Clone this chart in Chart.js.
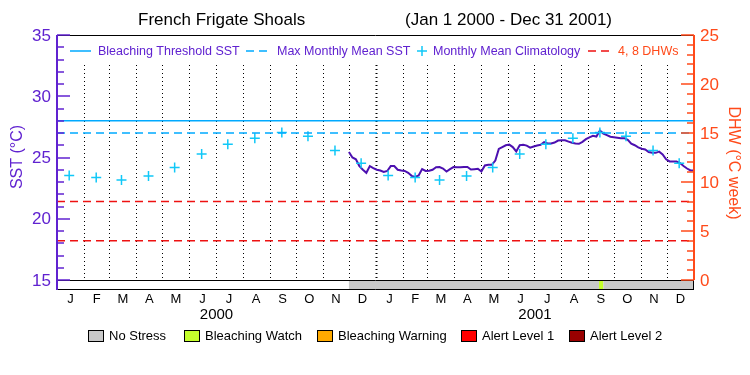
<!DOCTYPE html>
<html>
<head>
<meta charset="utf-8">
<script src="https://cdn.jsdelivr.net/npm/chart.js@4.4.1/dist/chart.umd.min.js"></script>
<style>
  html, body { margin: 0; padding: 0; background: #fff; }
  #wrap { width: 750px; height: 375px; }
</style>
</head>
<body>
<div id="wrap"><canvas id="chart"></canvas></div>
<script>
const years = ['2000', '2001'];
const monthLabels = ['J', 'F', 'M', 'A', 'M', 'J', 'J', 'A', 'S', 'O', 'N', 'D'];
const monthDays2000 = [31, 29, 31, 30, 31, 30, 31, 31, 30, 31, 30, 31];
const monthDays2001 = [31, 28, 31, 30, 31, 30, 31, 31, 30, 31, 30, 31];

// monthly mean climatology, same for both years
const climatology = [23.53, 23.37, 23.16, 23.48, 24.19, 25.28, 26.09, 26.58, 27.04, 26.74, 25.57, 24.54];
const mmmSST = 27.0;
const thresholdSST = 28.0;
const dhwLevels = [4, 8];

// SST, one value every 4 days from 1 Dec 2000
const sstStartDay = 335;
const sstStepDays = 4;
const sst = [
  25.45, 25.0, 24.85, 24.3, 24.0, 23.75, 24.3, 24.14, 24.0, 23.94,
  23.82, 23.9, 24.3, 24.3, 24.0, 23.94, 23.9, 23.75, 23.5, 23.42,
  23.53, 24.05, 23.9, 23.92, 24.0, 24.2, 24.22, 24.1, 23.86, 24.05,
  24.22, 24.2, 24.2, 24.22, 24.22, 24.02, 24.05, 24.08, 23.85, 24.35,
  24.4, 24.4, 24.75, 25.7, 25.85, 26.0, 26.05, 25.85, 25.5, 26.0,
  26.04, 25.97, 25.8, 25.9, 25.98, 26.04, 26.25, 26.14, 26.15, 26.22,
  26.38, 26.4, 26.4, 26.3, 26.2, 26.15, 26.12, 26.28, 26.5, 26.65,
  26.77, 26.71, 27.2, 26.95, 26.83, 26.7, 26.66, 26.62, 26.58, 26.58,
  26.44, 26.12, 26.0, 25.82, 25.72, 25.66, 25.45, 25.38, 25.38, 25.48,
  25.25, 24.85, 24.68, 24.68, 24.67, 24.55, 24.3, 24.1, 23.94, 23.94
];

// stress bar periods (day of record) and level index
const stressStart = [335, 622, 627];
const stressEnd = [622, 627, 731];
const stressLevel = [0, 1, 0];
const stressNames = ['No Stress', 'Bleaching Watch', 'Bleaching Warning', 'Alert Level 1', 'Alert Level 2'];
const stressColors = ['#c8c8c8', '#c4ff2c', '#ffaa00', '#ff0000', '#990000'];

const sstTicks = [15, 20, 25, 30, 35];
const dhwTicks = [0, 5, 10, 15, 20, 25];

const PURPLE = '#6022d0';
const LINE_PURPLE = '#4c10b0';
const CYAN = '#00aaff';
const CROSS = '#10c8f8';
const RED = '#ee1111';
const ORANGE = '#ff4a1a';
const FONT = '"Liberation Sans", Arial, sans-serif';

const monthDays = monthDays2000.concat(monthDays2001);
const monthStart = [0];
monthDays.forEach(d => monthStart.push(monthStart[monthStart.length - 1] + d));
const totalDays = monthStart[monthStart.length - 1];

const sstPoints = sst.map((v, i) => ({ x: sstStartDay + i * sstStepDays, y: v }));
const climPoints = monthDays.map((d, i) => ({ x: monthStart[i] + 14, y: climatology[i % 12] }));
const flat = v => [{ x: 0, y: v }, { x: totalDays, y: v }];

const decor = {
  id: 'decor',
  beforeDatasetsDraw(chart) {
    const { ctx, chartArea: a, scales: { x, y } } = chart;
    const y15 = Math.round(y.getPixelForValue(15)) + 0.5;
    ctx.save();
    stressStart.forEach((s, i) => {
      const x0 = x.getPixelForValue(s), x1 = x.getPixelForValue(stressEnd[i]);
      ctx.fillStyle = stressColors[stressLevel[i]];
      ctx.fillRect(x0, y15, x1 - x0, a.bottom - y15);
    });
    // month dividers, kept below the legend row
    ctx.strokeStyle = '#000';
    ctx.setLineDash([1, 3]);
    monthStart.slice(1, -1).forEach(d => {
      const px = Math.round(x.getPixelForValue(d)) + 0.5;
      ctx.lineWidth = d === 366 ? 2 : 1;
      ctx.beginPath(); ctx.moveTo(px, a.top + 30); ctx.lineTo(px, y15); ctx.stroke();
    });
    ctx.setLineDash([]);
    ctx.lineWidth = 1;
    ctx.beginPath();
    ctx.moveTo(a.left, a.top + 0.5); ctx.lineTo(a.right, a.top + 0.5);
    ctx.moveTo(a.left, y15); ctx.lineTo(a.right, y15);
    ctx.moveTo(a.left, a.bottom - 0.5); ctx.lineTo(a.right, a.bottom - 0.5);
    ctx.moveTo(a.right - 0.5, y15); ctx.lineTo(a.right - 0.5, a.bottom);
    ctx.stroke();
    ctx.restore();
  },
  afterDatasetsDraw(chart) {
    const { ctx, chartArea: a, scales: { x, y, y2 } } = chart;
    ctx.save();
    // left axis
    ctx.strokeStyle = PURPLE;
    ctx.lineWidth = 2;
    ctx.beginPath(); ctx.moveTo(a.left, a.top); ctx.lineTo(a.left, a.bottom); ctx.stroke();
    ctx.lineWidth = 1.5;
    for (let v = 15; v <= 35; v++) {
      const py = Math.round(y.getPixelForValue(v));
      const len = v % 5 === 0 ? 13 : 7;
      ctx.beginPath(); ctx.moveTo(a.left, py); ctx.lineTo(a.left + len, py); ctx.stroke();
    }
    ctx.fillStyle = PURPLE;
    ctx.font = '17px ' + FONT;
    ctx.textAlign = 'right';
    ctx.textBaseline = 'middle';
    sstTicks.forEach(v => ctx.fillText(String(v), a.left - 6, y.getPixelForValue(v) + 1));
    // right axis
    ctx.strokeStyle = ORANGE;
    ctx.lineWidth = 2;
    ctx.beginPath(); ctx.moveTo(a.right, a.top); ctx.lineTo(a.right, y2.getPixelForValue(0)); ctx.stroke();
    ctx.lineWidth = 1.5;
    for (let v = 0; v <= 25; v++) {
      const py = Math.round(y2.getPixelForValue(v));
      const len = v % 5 === 0 ? 13 : 7;
      ctx.beginPath(); ctx.moveTo(a.right, py); ctx.lineTo(a.right - len, py); ctx.stroke();
    }
    ctx.fillStyle = ORANGE;
    ctx.textAlign = 'left';
    dhwTicks.forEach(v => ctx.fillText(String(v), a.right + 6, y2.getPixelForValue(v) + 1));

    // month and year labels
    ctx.fillStyle = '#000';
    ctx.textAlign = 'center';
    ctx.font = '13px ' + FONT;
    monthDays.forEach((d, i) => {
      ctx.fillText(monthLabels[i % 12], x.getPixelForValue(monthStart[i] + d / 2), 299);
    });
    ctx.font = '15px ' + FONT;
    years.forEach((yr, i) => {
      ctx.fillText(yr, x.getPixelForValue(monthStart[i * 12] + (monthStart[i * 12 + 12] - monthStart[i * 12]) / 2), 315);
    });

    // title
    ctx.font = '17px ' + FONT;
    ctx.textAlign = 'left';
    ctx.fillText('French Frigate Shoals', 138, 20);
    ctx.textAlign = 'right';
    ctx.fillText('(Jan 1 2000 - Dec 31 2001)', 612, 20);

    // axis titles
    ctx.font = '16px ' + FONT;
    ctx.textAlign = 'center';
    ctx.fillStyle = PURPLE;
    ctx.save(); ctx.translate(18, 157); ctx.rotate(-Math.PI / 2); ctx.fillText('SST (°C)', 0, 0); ctx.restore();
    ctx.fillStyle = ORANGE;
    ctx.save(); ctx.translate(733, 163); ctx.rotate(Math.PI / 2); ctx.fillText('DHW (°C week)', 0, 0); ctx.restore();

    // top legend
    const ly = 51;
    ctx.font = '12.5px ' + FONT;
    ctx.textAlign = 'left';
    ctx.lineWidth = 1.5;
    ctx.strokeStyle = CYAN;
    ctx.beginPath(); ctx.moveTo(70, ly); ctx.lineTo(91, ly); ctx.stroke();
    ctx.setLineDash([8, 5]);
    ctx.beginPath(); ctx.moveTo(246, ly); ctx.lineTo(271, ly); ctx.stroke();
    ctx.strokeStyle = RED;
    ctx.beginPath(); ctx.moveTo(588, ly); ctx.lineTo(613, ly); ctx.stroke();
    ctx.setLineDash([]);
    ctx.strokeStyle = CROSS;
    ctx.beginPath(); ctx.moveTo(417, ly); ctx.lineTo(427, ly); ctx.moveTo(422, ly - 5); ctx.lineTo(422, ly + 5); ctx.stroke();
    ctx.fillStyle = PURPLE;
    ctx.fillText('Bleaching Threshold SST', 98, ly + 1);
    ctx.fillText('Max Monthly Mean SST', 277, ly + 1);
    ctx.fillText('Monthly Mean Climatology', 433, ly + 1);
    ctx.fillStyle = ORANGE;
    ctx.fillText('4, 8 DHWs', 618, ly + 1);

    // stress legend
    const boxX = [88, 184, 317, 461, 569];
    ctx.font = '13px ' + FONT;
    ctx.lineWidth = 1;
    ctx.strokeStyle = '#000';
    stressNames.forEach((n, i) => {
      ctx.fillStyle = stressColors[i];
      ctx.fillRect(boxX[i], 330, 15, 11);
      ctx.strokeRect(boxX[i] + 0.5, 330.5, 15, 11);
      ctx.fillStyle = '#000';
      ctx.fillText(n, boxX[i] + 21, 336);
    });
    ctx.restore();
  }
};

new Chart(document.getElementById('chart'), {
  type: 'scatter',
  data: {
    datasets: [
      { data: flat(thresholdSST), yAxisID: 'y', showLine: true, borderColor: CYAN, borderWidth: 1.5, pointRadius: 0 },
      { data: flat(mmmSST), yAxisID: 'y', showLine: true, borderColor: CYAN, borderWidth: 1.5, borderDash: [8, 5], pointRadius: 0 },
      { data: flat(dhwLevels[0]), yAxisID: 'y2', showLine: true, borderColor: RED, borderWidth: 1.5, borderDash: [8, 5], pointRadius: 0 },
      { data: flat(dhwLevels[1]), yAxisID: 'y2', showLine: true, borderColor: RED, borderWidth: 1.5, borderDash: [8, 5], pointRadius: 0 },
      { data: climPoints, yAxisID: 'y', pointStyle: 'cross', pointRadius: 5, borderColor: CROSS, borderWidth: 1.5 },
      { data: sstPoints, yAxisID: 'y', showLine: true, borderColor: LINE_PURPLE, borderWidth: 2, pointRadius: 0, tension: 0 }
    ]
  },
  options: {
    responsive: true,
    maintainAspectRatio: false,
    animation: false,
    layout: { padding: { left: 57, right: 56, top: 35, bottom: 85 } },
    plugins: { legend: { display: false }, tooltip: { enabled: false } },
    scales: {
      x: { type: 'linear', min: 0, max: totalDays, display: false },
      y: { min: 15 - 10 / 12.25, max: 35, display: false },
      y2: { position: 'right', min: -10 / 9.8, max: 25, display: false }
    }
  },
  plugins: [decor]
});
</script>
</body>
</html>
